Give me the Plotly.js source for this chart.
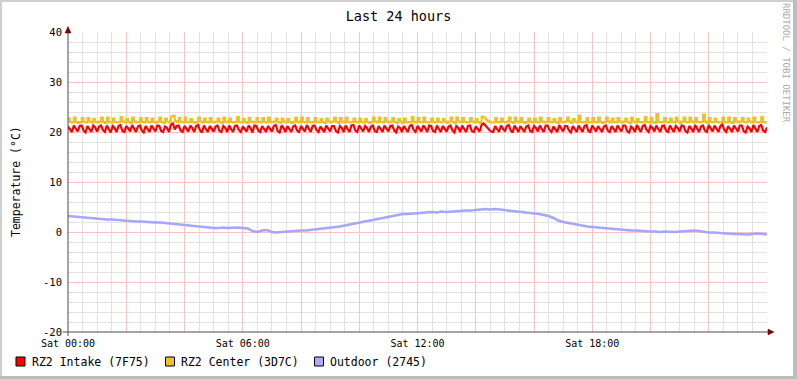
<!DOCTYPE html>
<html>
<head>
<meta charset="utf-8">
<script src="https://cdn.plot.ly/plotly-3.0.1.min.js"></script>
<style>html,body{margin:0;padding:0;background:#fff;}#chart{width:797px;height:379px;}</style>
</head>
<body>
<div id="chart"></div>
<script>
// ---- data ----
var xTickVals = [0, 2, 4, 6, 8, 10, 12, 14, 16, 18, 20, 22, 24];
var xTickText = ['Sat 00:00', '', '', 'Sat 06:00', '', '', 'Sat 12:00', '', '', 'Sat 18:00', '', '', ''];
var yTickVals = [-20, -10, 0, 10, 20, 30, 40];
var yTickText = ['-20', '-10', '0', '10', '20', '30', '40'];
var seriesNames = ['RZ2 Intake (7F75)', 'RZ2 Center (3D7C)', 'Outdoor (2745)'];

// RZ2 Intake, 4-minute samples over 24 h
var intake = [
21.1,20.6,20.0,21.3,20.8,20.1,21.2,21.3,20.3,19.9,
21.2,20.7,20.0,21.3,20.9,20.1,21.1,21.3,20.4,20.0,
21.3,20.6,19.9,21.2,20.8,20.0,21.2,21.4,20.2,20.0,
21.2,20.7,20.1,21.4,20.8,20.0,21.1,21.3,20.3,19.9,
21.2,20.6,20.0,21.3,20.7,20.1,21.3,21.2,20.2,20.0,
21.1,20.8,20.0,21.4,21.7,20.5,21.2,21.3,20.3,20.0,
21.2,20.7,20.1,21.3,20.8,20.0,21.2,21.4,20.3,19.9,
21.3,20.6,20.0,21.2,20.7,20.1,21.1,21.3,20.2,20.0,
21.2,20.8,20.0,21.3,20.6,20.0,21.2,21.3,20.4,20.0,
21.1,20.7,20.1,21.3,20.8,19.9,21.3,21.2,20.3,20.0,
21.2,20.6,20.0,21.2,20.7,20.1,21.2,21.4,20.2,19.9,
21.3,20.8,20.0,21.2,20.6,20.0,21.1,21.3,20.3,20.0,
21.2,20.7,20.1,21.4,20.8,20.0,21.2,21.3,20.4,20.0,
21.1,20.6,20.0,21.3,20.7,20.1,21.2,21.2,20.2,19.9,
21.2,20.8,20.0,21.3,20.6,20.0,21.3,21.4,20.3,20.0,
21.3,20.7,20.1,21.2,20.8,20.0,21.1,21.3,20.2,20.0,
21.2,20.6,20.0,21.3,20.7,20.1,21.2,21.3,20.3,19.9,
21.1,20.8,20.0,21.2,20.6,20.0,21.2,21.4,20.4,20.0,
21.2,20.7,20.1,21.3,20.8,20.0,21.3,21.2,20.2,20.0,
21.3,20.6,20.0,21.2,20.7,20.1,21.1,21.3,20.3,19.9,
21.2,20.8,20.0,21.3,20.6,20.0,21.2,21.3,20.2,20.0,
21.1,20.7,20.1,21.4,21.7,21.3,20.8,20.4,20.1,20.0,
21.2,20.6,20.0,21.3,20.8,20.1,21.2,21.4,20.3,19.9,
21.3,20.7,20.0,21.2,20.7,20.0,21.1,21.3,20.2,20.0,
21.2,20.8,20.1,21.3,20.6,20.0,21.3,21.3,20.4,20.0,
21.1,20.6,20.0,21.4,20.8,20.1,21.2,21.2,20.3,19.9,
21.2,20.7,20.0,21.3,20.7,20.0,21.2,21.4,20.2,20.0,
21.3,20.8,20.1,21.2,20.6,20.0,21.1,21.3,20.3,20.0,
21.2,20.6,20.0,21.3,20.8,20.1,21.3,21.3,20.2,19.9,
21.1,20.7,20.0,21.4,20.7,20.0,21.2,21.4,20.4,20.0,
21.2,20.8,20.1,21.3,20.6,20.0,21.2,21.3,20.3,20.0,
21.3,20.6,20.0,21.2,20.8,20.1,21.3,21.2,20.2,19.9,
21.2,20.7,20.0,21.4,20.7,20.0,21.1,21.3,20.3,20.0,
21.4,20.8,20.1,21.3,20.6,20.0,21.2,21.5,20.4,20.0,
21.2,20.6,20.0,21.3,20.8,20.1,21.3,21.3,20.2,19.9,
21.1,20.7,20.0,21.4,20.7,20.0,21.2,21.4,20.3,20.0,
20.9
];

// RZ2 Center, 4-minute samples over 24 h
var center = [
22.7,22.0,21.9,22.9,22.0,21.8,22.0,22.8,22.0,21.9,
22.8,22.1,21.9,22.6,22.0,21.9,22.1,22.9,22.0,21.8,
22.9,22.0,21.9,22.7,22.0,21.9,22.0,23.0,22.1,21.9,
22.6,22.0,21.8,22.9,22.1,21.9,22.0,22.8,22.0,21.9,
22.8,22.0,21.9,22.7,22.0,21.9,22.1,22.9,22.0,21.8,
22.7,22.1,21.9,23.1,23.3,22.2,22.0,22.8,22.0,21.9,
22.9,22.0,21.9,22.6,22.0,21.8,22.0,22.9,22.1,21.9,
22.7,22.0,21.9,22.8,22.0,21.9,22.1,22.7,22.0,21.8,
22.9,22.1,21.9,22.7,22.0,21.9,22.0,23.0,22.0,21.9,
22.6,22.0,21.8,22.8,22.1,21.9,22.0,22.8,22.0,21.9,
22.8,22.0,21.9,22.9,22.0,21.9,22.1,22.7,22.0,21.8,
22.7,22.1,21.9,22.6,22.0,21.8,22.0,22.9,22.1,21.9,
22.9,22.0,21.9,22.8,22.0,21.9,22.0,22.8,22.0,21.9,
22.6,22.0,21.8,22.7,22.1,21.9,22.1,22.9,22.0,21.8,
22.8,22.1,21.9,22.9,22.0,21.9,22.0,22.7,22.0,21.9,
22.7,22.0,21.9,22.6,22.0,21.8,22.0,22.9,22.1,21.9,
22.9,22.0,21.9,22.8,22.1,21.9,22.1,22.8,22.0,21.8,
22.6,22.1,21.8,22.7,22.0,21.9,22.0,23.0,22.0,21.9,
22.8,22.0,21.9,22.9,22.0,21.9,22.0,22.7,22.0,21.9,
22.7,22.0,21.9,22.6,22.1,21.8,22.1,22.9,22.0,21.8,
22.9,22.1,21.9,22.8,22.0,21.9,22.0,22.8,22.1,21.9,
22.6,22.0,21.8,23.1,22.9,22.5,22.2,22.0,21.9,21.9,
22.8,22.0,21.9,22.7,22.0,21.9,22.1,22.9,22.0,21.8,
22.9,22.1,21.9,22.8,22.0,21.8,22.0,22.7,22.0,21.9,
22.7,22.0,21.9,22.9,22.1,21.9,22.0,22.8,22.0,21.9,
22.6,22.0,21.8,22.8,22.0,21.9,22.1,22.9,22.1,21.8,
22.6,22.1,21.9,23.3,22.0,21.9,22.0,22.8,22.0,21.9,
22.8,22.0,21.9,22.9,22.0,21.8,22.0,22.9,22.1,21.9,
22.7,22.0,21.9,22.8,22.1,21.9,22.1,22.7,22.0,21.8,
22.9,22.1,21.9,22.6,22.0,21.9,22.0,23.0,22.0,21.9,
22.8,22.0,21.8,23.6,22.0,21.9,22.0,22.8,22.0,21.9,
22.7,22.0,21.9,22.9,22.1,21.8,22.1,22.9,22.0,21.9,
22.9,22.1,21.9,22.8,22.0,21.9,22.0,23.5,22.1,21.8,
22.8,22.0,21.9,22.7,22.0,21.9,22.0,22.9,22.0,21.9,
22.9,22.0,21.8,22.8,22.1,21.9,22.1,22.8,22.0,21.9,
22.7,22.1,21.9,22.9,22.0,21.9,22.0,23.0,22.0,21.9,
22.0
];

// Outdoor, 10-minute samples over 24 h
var outdoor = [
3.2,3.1,3.1,3.0,2.8,2.8,
2.6,2.6,2.5,2.5,2.4,2.3,
2.2,2.2,2.1,2.1,2.0,2.0,
1.9,1.9,1.8,1.6,1.5,1.4,
1.3,1.3,1.2,1.1,1.0,0.9,
0.8,0.8,0.9,0.8,0.9,0.9,
0.8,0.7,0.2,0.0,0.3,0.4,
0.0,-0.1,0.0,0.1,0.1,0.2,
0.3,0.3,0.4,0.5,0.6,0.7,
0.8,0.9,1.1,1.3,1.5,1.7,
1.9,2.1,2.3,2.5,2.7,2.9,
3.1,3.3,3.5,3.6,3.6,3.7,
3.8,3.9,3.9,4.0,3.9,4.1,
4.0,4.1,4.2,4.2,4.3,4.3,
4.4,4.4,4.6,4.5,4.6,4.5,
4.4,4.3,4.1,4.0,3.9,3.8,
3.7,3.6,3.4,3.2,2.8,2.3,
2.0,1.8,1.6,1.5,1.3,1.1,
1.0,0.9,0.8,0.7,0.6,0.5,
0.5,0.4,0.3,0.3,0.2,0.2,
0.1,0.1,0.0,0.1,0.0,0.0,
0.1,0.2,0.3,0.3,0.2,0.0,
-0.1,-0.1,-0.2,-0.3,-0.3,-0.4,
-0.4,-0.5,-0.5,-0.4,-0.3,-0.4,
-0.5
];

function hoursFor(arr) {
  var n = arr.length, out = [];
  for (var i = 0; i < n; i++) out.push(i * 24 / (n - 1));
  return out;
}

// ---- geometry / style ----
var W = 797, H = 379, L = 68, R = 30, T = 32, B = 47;
var PW = W - L - R, PH = H - T - B;
function px(x) { return (x - L) / PW; }
function py(y) { return (H - B - y) / PH; }

var MONO = 'DejaVu Sans Mono, monospace';
var lineColors = ['#FF0000', '#EBC22A', '#A6A6FA'];
var swatchColors = ['#FF0000', '#EBC22A', '#AAAAFF'];

var traces = [
  {x: hoursFor(outdoor), y: outdoor, type: 'scatter', mode: 'lines', line: {color: lineColors[2], width: 2.5}, name: seriesNames[2], hoverinfo: 'skip'},
  {x: hoursFor(center), y: center, type: 'scatter', mode: 'lines', line: {color: lineColors[1], width: 2, shape: 'hv'}, name: seriesNames[1], hoverinfo: 'skip'},
  {x: hoursFor(intake), y: intake, type: 'scatter', mode: 'lines', line: {color: lineColors[0], width: 2.2}, name: seriesNames[0], hoverinfo: 'skip'}
];

var shapes = [];
// frame border
shapes.push({type: 'rect', xref: 'paper', yref: 'paper', x0: px(0), x1: px(W), y0: py(0), y1: py(2), fillcolor: '#CFCFCF', line: {width: 0}, layer: 'above'});
shapes.push({type: 'rect', xref: 'paper', yref: 'paper', x0: px(0), x1: px(2), y0: py(0), y1: py(H), fillcolor: '#CFCFCF', line: {width: 0}, layer: 'above'});
shapes.push({type: 'rect', xref: 'paper', yref: 'paper', x0: px(0), x1: px(W), y0: py(H - 3), y1: py(H), fillcolor: '#BDBDBD', line: {width: 0}, layer: 'above'});
shapes.push({type: 'rect', xref: 'paper', yref: 'paper', x0: px(W - 4), x1: px(W), y0: py(0), y1: py(H), fillcolor: '#BDBDBD', line: {width: 0}, layer: 'above'});
// axes lines
shapes.push({type: 'line', xref: 'paper', yref: 'paper', x0: px(63), x1: px(769), y0: py(332), y1: py(332), line: {color: '#4A4A4A', width: 1}, layer: 'above'});
shapes.push({type: 'line', xref: 'paper', yref: 'paper', x0: px(68), x1: px(68), y0: py(336), y1: py(30), line: {color: '#4A4A4A', width: 1}, layer: 'above'});
// arrows
shapes.push({type: 'path', xref: 'paper', yref: 'paper', path: 'M ' + px(768) + ' ' + py(329) + ' L ' + px(774) + ' ' + py(332) + ' L ' + px(768) + ' ' + py(335) + ' Z', fillcolor: '#7F0000', line: {color: '#7F0000', width: 0.5}, layer: 'above'});
shapes.push({type: 'path', xref: 'paper', yref: 'paper', path: 'M ' + px(65) + ' ' + py(33) + ' L ' + px(68) + ' ' + py(26.5) + ' L ' + px(71) + ' ' + py(33) + ' Z', fillcolor: '#7F0000', line: {color: '#7F0000', width: 0.5}, layer: 'above'});
// legend swatches + labels
var swX = [16, 165.5, 314.5];
var txX = [29.5, 179, 328];
var annotations = [];
for (var i = 0; i < 3; i++) {
  shapes.push({type: 'rect', xref: 'paper', yref: 'paper', x0: px(swX[i]), x1: px(swX[i] + 9), y0: py(366), y1: py(357), fillcolor: swatchColors[i], line: {color: '#000000', width: 1}, layer: 'above'});
  annotations.push({xref: 'paper', yref: 'paper', x: px(txX[i]), y: py(361.5), xanchor: 'left', yanchor: 'middle', showarrow: false, text: seriesNames[i], font: {family: MONO, size: 11.5, color: '#000'}});
}
// y axis title
annotations.push({xref: 'paper', yref: 'paper', x: px(16), y: py(182), xanchor: 'center', yanchor: 'middle', showarrow: false, textangle: -90, text: 'Temperature (°C)', font: {family: MONO, size: 11.5, color: '#000'}});
// watermark
annotations.push({xref: 'paper', yref: 'paper', x: px(786), y: py(63), xanchor: 'center', yanchor: 'middle', showarrow: false, textangle: 90, text: 'RRDTOOL / TOBI OETIKER', font: {family: MONO, size: 9, color: '#AAAAAA'}});

var layout = {
  width: W, height: H,
  margin: {l: L, r: R, t: T, b: B, pad: 0},
  paper_bgcolor: '#FFFFFF', plot_bgcolor: '#FFFFFF',
  showlegend: false,
  hovermode: false,
  title: {text: 'Last 24 hours', font: {family: MONO, size: 13.5, color: '#000'}, xref: 'container', x: 0.5, xanchor: 'center', yref: 'container', y: 1 - 16 / H, yanchor: 'middle'},
  xaxis: {
    range: [0, 24], fixedrange: true, automargin: false,
    tickmode: 'array', tickvals: xTickVals, ticktext: xTickText,
    showgrid: true, gridcolor: '#F5C4C4', gridwidth: 1,
    minor: {tickmode: 'linear', tick0: 0, dtick: 0.5, showgrid: true, gridcolor: '#E2E2E2', gridwidth: 1},
    zeroline: false, showline: false, ticks: '',
    tickfont: {family: MONO, size: 10, color: '#000'},
    ticklabelstandoff: 4
  },
  yaxis: {
    range: [-20, 40], fixedrange: true, automargin: false,
    tickmode: 'array', tickvals: yTickVals, ticktext: yTickText,
    showgrid: true, gridcolor: '#F5C4C4', gridwidth: 1,
    minor: {tickmode: 'linear', tick0: 0, dtick: 2, showgrid: true, gridcolor: '#E2E2E2', gridwidth: 1},
    zeroline: false, showline: false, ticks: '',
    tickfont: {family: MONO, size: 10.5, color: '#000'},
    ticklabelstandoff: 5
  },
  shapes: shapes,
  annotations: annotations
};

Plotly.newPlot('chart', traces, layout, {displayModeBar: false, staticPlot: true});
</script>
</body>
</html>
